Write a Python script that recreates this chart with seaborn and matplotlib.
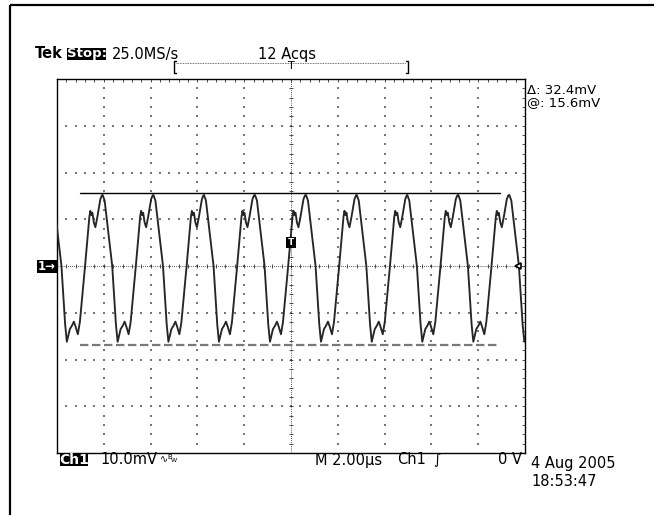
import numpy as np
import pandas as pd
import matplotlib
matplotlib.use('Agg')
import matplotlib.pyplot as plt
from matplotlib.patches import Rectangle
import seaborn as sns

# one cycle of the trace, measured from a peak (time offset in us, level in mV)
cycle_dt = [0.000, 0.085, 0.171, 0.410, 0.568, 0.641, 0.769, 0.855, 0.940, 1.004,
            1.111, 1.197, 1.419, 1.603, 1.645, 1.688, 1.731, 1.795, 1.859, 1.945,
            2.073, 2.137]
cycle_mv = [15.2, 14.0, 10.3, 0.0, -12.5, -16.2, -13.5, -12.8, -11.9, -12.8,
            -14.6, -12.0, 0.0, 10.5, 11.8, 10.9, 11.4, 9.3, 8.3, 10.5,
            14.3, 15.1]
# peak times read along the screen (us)
peak_times = [-10.22, -8.05, -5.88, -3.72, -1.54, 0.64, 2.81, 4.97, 7.15, 9.33]

# cursors (mV) and their horizontal extent (us)
cursor_top = 15.6
cursor_bottom = -16.8
cursor_span = [-9.02, 8.93]

# build the trace table
rows = []
for p in peak_times:
    for dt, mv in zip(cycle_dt, cycle_mv):
        rows.append((p + dt, mv))
df = pd.DataFrame(rows, columns=['t', 'mV'])

sns.set_style('white')
plt.rcParams['font.family'] = ['DejaVu Sans']
plt.rcParams['text.color'] = 'black'

W, H = 654, 515
fig = plt.figure(figsize=(W / 100, H / 100), dpi=100)
L, R, T, B = 57, 525, 79, 453
ax = fig.add_axes([L / W, (H - B) / H, (R - L) / W, (B - T) / H])
ax.set_xlim(-10, 10)
ax.set_ylim(-40, 40)

# graticule
for s in ax.spines.values():
    s.set_linewidth(1.0)
    s.set_color('black')
minor_x = np.arange(-10, 10.001, 0.4)
minor_y = np.arange(-40, 40.001, 2)
ax.set_xticks(minor_x)
ax.set_yticks(minor_y)
ax.tick_params(direction='in', length=2.2, width=0.6, color='#333333', top=True, right=True,
               labelbottom=False, labelleft=False)
major_x = [v for v in range(-8, 9, 2) if v != 0]
major_y = [v for v in range(-30, 31, 10) if v != 0]
gx = [x for x in major_x for y in minor_y[1:-1]]
gy = [y for x in major_x for y in minor_y[1:-1]]
gx += [x for y in major_y for x in minor_x[1:-1]]
gy += [y for y in major_y for x in minor_x[1:-1]]
ax.scatter(gx, gy, s=0.9, marker='s', color='#777777', linewidths=0, zorder=1)
ax.axhline(0, color='#222222', lw=0.6, ls=(0, (1, 1.5)), zorder=1)
ax.axvline(0, color='#222222', lw=0.6, ls=(0, (1, 1.5)), zorder=1)
ax.plot(minor_x, np.zeros_like(minor_x), ls='none', marker='|', ms=3, mew=0.6, color='#333333', zorder=1)
ax.plot(np.zeros_like(minor_y), minor_y, ls='none', marker='_', ms=3, mew=0.6, color='#333333', zorder=1)

# cursors
ax.plot(cursor_span, [cursor_top, cursor_top], color='black', lw=1.0, zorder=2)
ax.plot(cursor_span, [cursor_bottom, cursor_bottom], color='#7a7a7a', lw=1.6,
        dashes=(3.8, 1.6), zorder=2)

# trace
sns.lineplot(data=df, x='t', y='mV', sort=False, estimator=None, color='#262626',
             lw=1.35, ax=ax, zorder=3)
ax.set_xlabel('')
ax.set_ylabel('')

# trigger level marker at right edge
ax.plot([9.7], [0], marker='<', ms=4, mfc='white', mec='black', mew=1.2,
        clip_on=False, zorder=4)

# overlay in pixel coordinates for the screen annotations
ov = fig.add_axes([0, 0, 1, 1])
ov.set_xlim(0, W)
ov.set_ylim(H, 0)
ov.axis('off')

# outer frame
ov.add_patch(Rectangle((9.5, 5), 700, 600, fill=False, ec='black', lw=1.6))


def txt(x, y, s, size=10, **kw):
    ov.text(x, y, s, va='center', ha=kw.pop('ha', 'left'), fontsize=size, **kw)


def box(x0, y0, x1, y1):
    ov.add_patch(Rectangle((x0, y0), x1 - x0, y1 - y0, fc='black', ec='none'))


# header
txt(35, 54, 'Tek', weight='bold', size=10.5)
box(67, 48, 106, 60)
txt(86.5, 54, 'Stop:', color='white', weight='bold', ha='center', size=9.5)
txt(112, 54, '25.0MS/s', size=10.5)
txt(258, 54, '12 Acqs', size=10.5)

# record position bar
ov.plot([176, 174, 174, 176], [61, 61, 73, 73], color='black', lw=1.0)
ov.plot([406, 408, 408, 406], [61, 61, 73, 73], color='black', lw=1.0)
ov.plot([176, 406], [63, 63], color='#444444', lw=0.6, ls=(0, (1, 1)))
txt(291, 66, 'T', size=8, ha='center')

# cursor readout
txt(527, 90.5, 'Δ: 32.4mV', size=9.5)
txt(527, 103, '@: 15.6mV', size=9.5)

# channel marker and trigger marker
box(37, 260, 57, 273)
txt(47, 266.5, '1→', color='white', ha='center', size=8.5, weight='bold')
box(286, 237, 296, 248)
txt(291, 242.5, 'T', color='white', ha='center', size=6.5, weight='bold')

# footer
box(60, 454, 88, 466)
txt(74, 460, 'Ch1', color='white', ha='center', weight='bold')
txt(100, 460, '10.0mV', size=10.5)
txt(160, 459, '∿', size=7)
txt(167, 457, 'B', size=5)
txt(171, 461, 'W', size=4.5)
txt(315, 460, 'M 2.00µs', size=10.5)
txt(397, 460, 'Ch1', size=10.5)
txt(433, 460, '∫', size=10, style='italic')
txt(498, 460, '0 V', size=10.5)
txt(531, 463.5, '4 Aug 2005', size=10.5)
txt(531, 481.5, '18:53:47', size=10.5)

fig.savefig('out.png', dpi=100)
